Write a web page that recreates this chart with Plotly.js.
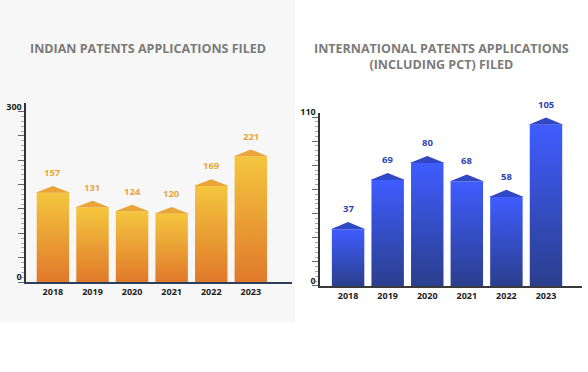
<!DOCTYPE html>
<html><head><meta charset="utf-8">
<script src="https://cdn.plot.ly/plotly-3.0.1.min.js"></script>
<style>html,body{margin:0;padding:0;background:#fff}#chart{width:588px;height:372px}</style>
</head><body><div id="chart"></div>
<script>
const categories = ['2018', '2019', '2020', '2021', '2022', '2023'];
const indianValues = [157, 131, 124, 120, 169, 221];
const intlValues = [37, 69, 80, 68, 58, 105];
const indianAxisLabels = ['0', '300'];
const intlAxisLabels = ['0', '110'];
const indianTitle = 'INDIAN PATENTS APPLICATIONS FILED';
const intlTitle = 'INTERNATIONAL PATENTS APPLICATIONS<br>(INCLUDING PCT) FILED';

const idx = categories.map((c, i) => i);
const halfW = 0.41, over = 0.03;

function buildBars(values, xa, ya, capH, bottomCol, topCol, capCol, labelCol) {
  const traces = [], annotations = [];
  values.forEach((v, i) => {
    traces.push({
      type: 'scatter', mode: 'lines', xaxis: xa, yaxis: ya,
      x: [i - halfW, i - halfW, i + halfW, i + halfW, i - halfW],
      y: [0, v, v, 0, 0],
      fill: 'toself', line: {width: 0},
      fillgradient: {type: 'vertical', start: 0, stop: v,
        colorscale: [[0, bottomCol], [1, topCol]]},
      hoverinfo: 'skip', showlegend: false
    });
    traces.push({
      type: 'scatter', mode: 'lines', xaxis: xa, yaxis: ya,
      x: [i - halfW - over, i, i + halfW + over, i - halfW - over],
      y: [v, v + capH, v, v],
      fill: 'toself', fillcolor: capCol, line: {width: 0},
      hoverinfo: 'skip', showlegend: false
    });
    annotations.push({
      xref: xa, yref: ya, x: i, y: v + capH, text: String(v),
      showarrow: false, yanchor: 'bottom', yshift: 5,
      font: {family: 'Open Sans', size: 9.5, color: labelCol, weight: 700}
    });
  });
  return {traces, annotations};
}

const left = buildBars(indianValues, 'x', 'y', 12, '#e0792b', '#f4c63e', '#eaa536', '#eba53c');
const right = buildBars(intlValues, 'x2', 'y2', 4.6, '#2a3f8c', '#3f5cff', '#3148c4', '#2f44b5');

const leftMax = 300, rightMax = 110;
function majors(max) { const a = []; for (let k = 0; k <= 7; k++) a.push(max * k / 7); return a; }
function minors(max) { const a = []; for (let k = 0; k <= 35; k++) if (k % 5) a.push(max * k / 35); return a; }
function labels(max, lab) { return majors(max).map((v, k) => k === 0 ? lab[0] : (k === 7 ? lab[1] : '')); }

const tickFont = {family: 'Open Sans', size: 9, color: '#222', weight: 700};

function yAxis(domain, range, max, lab, anchor) {
  return {domain: domain, range: range, anchor: anchor, tickmode: 'array', tickvals: majors(max),
    ticktext: labels(max, lab), ticks: 'outside', ticklen: 6, tickwidth: 1,
    tickcolor: '#666', showgrid: false, zeroline: false, showline: true, linecolor: '#333',
    linewidth: 1.5, tickfont: tickFont, ticklabelstandoff: -5, ticklabelshift: -5,
    minor: {tickmode: 'array', tickvals: minors(max), ticks: 'outside', ticklen: 3, tickcolor: '#aaa', tickwidth: 1, showgrid: false},
    fixedrange: true};
}

const layout = {
  width: 588, height: 372,
  margin: {l: 0, r: 0, t: 0, b: 0},
  paper_bgcolor: '#ffffff', plot_bgcolor: 'rgba(0,0,0,0)',
  showlegend: false,
  shapes: [{type: 'rect', xref: 'paper', yref: 'paper', x0: 0, x1: 0.5017, y0: 0.134, y1: 1,
    fillcolor: '#f7f7f7', line: {width: 0}, layer: 'below'}],
  xaxis: {domain: [0.0442, 0.4966], range: [-0.68, 6.04], tickmode: 'array', tickvals: idx, ticktext: categories,
    showgrid: false, zeroline: false, showline: true, linecolor: '#2c3e5c', linewidth: 2,
    ticks: '', tickfont: tickFont, fixedrange: true},
  yaxis: yAxis([0.2419, 0.7231], [0, 315], leftMax, indianAxisLabels, 'x'),
  xaxis2: {domain: [0.5442, 0.9898], range: [-0.71, 5.91], tickmode: 'array', tickvals: idx, ticktext: categories,
    anchor: 'y2', showgrid: false, zeroline: false, showline: true, linecolor: '#3a3a3a', linewidth: 2,
    ticks: '', tickfont: tickFont, fixedrange: true},
  yaxis2: yAxis([0.2312, 0.6962], [0, 112.6], rightMax, intlAxisLabels, 'x2'),
  annotations: [
    {xref: 'paper', yref: 'paper', x: 148 / 588, y: 1 - 48 / 372, text: indianTitle, showarrow: false,
      xanchor: 'center', yanchor: 'middle', font: {family: 'Open Sans', size: 12.5, color: '#7b7b7b', weight: 700}},
    {xref: 'paper', yref: 'paper', x: 441 / 588, y: 1 - 57 / 372, text: intlTitle, showarrow: false,
      xanchor: 'center', yanchor: 'middle', font: {family: 'Open Sans', size: 12.5, color: '#7b7b7b', weight: 700}}
  ].concat(left.annotations, right.annotations)
};

Plotly.newPlot('chart', left.traces.concat(right.traces), layout, {displayModeBar: false, staticPlot: true});
</script></body></html>
